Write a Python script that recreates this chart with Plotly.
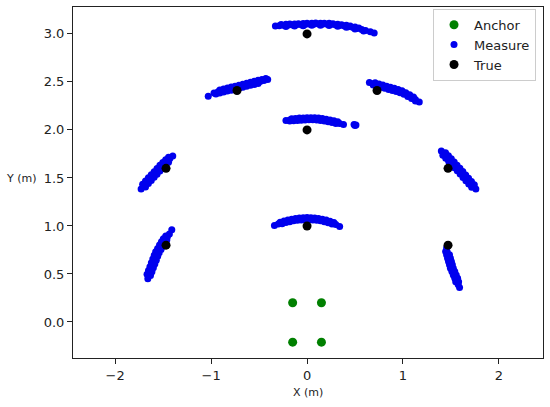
import plotly.graph_objects as go

# anchors and true tag positions (m)
anchor_x = [-0.15, 0.15, -0.15, 0.15]
anchor_y = [0.20, 0.20, -0.21, -0.21]

true_x = [0.0, -0.73, 0.73, 0.0, -1.47, 1.47, 0.0, -1.47, 1.47]
true_y = [3.0, 2.41, 2.41, 2.0, 1.60, 1.60, 1.0, 0.80, 0.80]

top_x = [-0.33, -0.29, -0.24, -0.20, -0.15, -0.11, -0.06, -0.02, 0.03, 0.07, 0.12, 0.16,
         0.21, 0.25, 0.30, 0.34, 0.39, 0.43, 0.48, 0.52, 0.57, 0.61, 0.66, 0.70,
         -0.27, -0.22, -0.18, -0.13, -0.09, -0.04, 0.00, 0.05, 0.09, 0.14, 0.18, 0.23,
         0.27, 0.32, 0.36, 0.41, 0.45, 0.50, 0.54,
         -0.22, -0.13, -0.04, 0.05, 0.14, 0.23, 0.32, 0.41, 0.50, 0.59]
top_y = [3.083, 3.085, 3.088, 3.090, 3.092, 3.094, 3.096, 3.098, 3.100, 3.101, 3.102, 3.101,
         3.100, 3.097, 3.093, 3.088, 3.082, 3.075, 3.066, 3.057, 3.046, 3.035, 3.022, 3.010,
         3.098, 3.100, 3.102, 3.104, 3.106, 3.108, 3.110, 3.111, 3.113, 3.112, 3.111, 3.110,
         3.106, 3.101, 3.096, 3.089, 3.082, 3.072, 3.062,
         3.078, 3.082, 3.086, 3.090, 3.091, 3.088, 3.079, 3.068, 3.051, 3.029]

upper_left_x = [-1.03, -0.97, -0.93, -0.89, -0.85, -0.81, -0.77, -0.73, -0.69, -0.65, -0.61,
                -0.57, -0.53, -0.49, -0.45, -0.41,
                -0.91, -0.87, -0.83, -0.79, -0.75, -0.71, -0.67, -0.63, -0.59, -0.55, -0.51,
                -0.47, -0.43,
                -0.95, -0.91, -0.87, -0.83, -0.79, -0.75, -0.71, -0.67, -0.63, -0.59, -0.55, -0.51]
upper_left_y = [2.350, 2.385, 2.395, 2.405, 2.415, 2.425, 2.435, 2.445, 2.455, 2.465, 2.475,
                2.485, 2.495, 2.505, 2.515, 2.525,
                2.416, 2.426, 2.436, 2.446, 2.456, 2.466, 2.476, 2.486, 2.496, 2.506, 2.516,
                2.526, 2.536,
                2.374, 2.384, 2.394, 2.404, 2.414, 2.424, 2.434, 2.444, 2.454, 2.464, 2.474, 2.484]

upper_right_x = [0.65, 0.69, 0.73, 0.77, 0.81, 0.85, 0.89, 0.93, 0.97, 1.01, 1.05, 1.09, 1.13, 1.17,
                 0.71, 0.75, 0.79, 0.83, 0.87, 0.91, 0.95, 0.99, 1.03, 1.07, 1.11,
                 0.69, 0.73, 0.77, 0.81, 0.85, 0.89, 0.93, 0.97, 1.01, 1.05, 1.09, 1.13]
upper_right_y = [2.495, 2.482, 2.470, 2.458, 2.447, 2.436, 2.425, 2.413, 2.400, 2.385, 2.362,
                 2.340, 2.316, 2.290,
                 2.490, 2.478, 2.467, 2.456, 2.445, 2.433, 2.421, 2.407, 2.388, 2.365, 2.342,
                 2.468, 2.456, 2.444, 2.433, 2.422, 2.411, 2.399, 2.386, 2.371, 2.348, 2.326, 2.302]

mid_x = [-0.22, -0.18, -0.14, -0.10, -0.06, -0.02, 0.02, 0.06, 0.10, 0.14, 0.18, 0.22, 0.26,
         0.30, 0.34, 0.38,
         -0.16, -0.12, -0.08, -0.04, 0.00, 0.04, 0.08, 0.12, 0.16, 0.20, 0.24, 0.28, 0.32,
         -0.18, -0.14, -0.10, -0.06, -0.02, 0.02, 0.06, 0.10, 0.14, 0.18, 0.22, 0.26, 0.30,
         0.49, 0.50, 0.51]
mid_y = [2.098, 2.103, 2.107, 2.110, 2.113, 2.115, 2.116, 2.116, 2.114, 2.110, 2.104, 2.097,
         2.089, 2.079, 2.068, 2.056,
         2.116, 2.120, 2.123, 2.125, 2.127, 2.127, 2.126, 2.123, 2.118, 2.112, 2.104, 2.095, 2.085,
         2.092, 2.096, 2.099, 2.102, 2.104, 2.105, 2.105, 2.103, 2.099, 2.093, 2.086, 2.078, 2.068,
         2.056, 2.046, 2.052]

mid_left_x = [-1.73, -1.70, -1.67, -1.64, -1.61, -1.58, -1.55, -1.52, -1.49, -1.46, -1.43, -1.40,
              -1.714, -1.684, -1.654, -1.624, -1.594, -1.564, -1.534, -1.504, -1.474, -1.444,
              -1.684, -1.654, -1.624, -1.594, -1.564, -1.534, -1.504, -1.474, -1.444]
mid_left_y = [1.385, 1.420, 1.455, 1.488, 1.520, 1.552, 1.585, 1.618, 1.648, 1.677, 1.703, 1.728,
              1.433, 1.468, 1.501, 1.533, 1.565, 1.598, 1.631, 1.661, 1.690, 1.716,
              1.406, 1.441, 1.474, 1.506, 1.538, 1.571, 1.604, 1.634, 1.663]

mid_right_x = [1.40, 1.43, 1.46, 1.49, 1.52, 1.55, 1.58, 1.61, 1.64, 1.67, 1.70, 1.73, 1.76,
               1.444, 1.474, 1.504, 1.534, 1.564, 1.594, 1.624, 1.654, 1.684, 1.714, 1.744,
               1.416, 1.446, 1.476, 1.506, 1.536, 1.566, 1.596, 1.626, 1.656, 1.686, 1.716]
mid_right_y = [1.780, 1.750, 1.718, 1.686, 1.654, 1.620, 1.587, 1.553, 1.518, 1.484, 1.450,
               1.416, 1.385,
               1.763, 1.731, 1.699, 1.667, 1.633, 1.600, 1.566, 1.531, 1.497, 1.463, 1.429,
               1.737, 1.705, 1.673, 1.641, 1.607, 1.574, 1.540, 1.505, 1.471, 1.437, 1.403]

low_x = [-0.34, -0.30, -0.26, -0.22, -0.18, -0.14, -0.10, -0.06, -0.02, 0.02, 0.06, 0.10, 0.14,
         0.18, 0.22, 0.26, 0.30, 0.34,
         -0.28, -0.24, -0.20, -0.16, -0.12, -0.08, -0.04, 0.00, 0.04, 0.08, 0.12, 0.16, 0.20,
         0.24, 0.28,
         -0.26, -0.22, -0.18, -0.14, -0.10, -0.06, -0.02, 0.02, 0.06, 0.10, 0.14, 0.18, 0.22, 0.26]
low_y = [1.005, 1.021, 1.035, 1.047, 1.056, 1.064, 1.070, 1.074, 1.076, 1.076, 1.074, 1.070,
         1.064, 1.056, 1.045, 1.032, 1.016, 0.995,
         1.039, 1.052, 1.063, 1.071, 1.078, 1.083, 1.086, 1.087, 1.086, 1.083, 1.078, 1.071,
         1.062, 1.050, 1.035,
         1.024, 1.036, 1.045, 1.053, 1.059, 1.063, 1.065, 1.065, 1.063, 1.059, 1.053, 1.045,
         1.034, 1.021]

low_left_x = [-1.66, -1.65, -1.635, -1.62, -1.605, -1.59, -1.575, -1.56, -1.54, -1.52, -1.50,
              -1.48, -1.455, -1.435, -1.41,
              -1.668, -1.653, -1.638, -1.623, -1.608, -1.593, -1.578, -1.558, -1.538, -1.518,
              -1.498, -1.473,
              -1.632, -1.617, -1.602, -1.587, -1.572, -1.557, -1.542, -1.522, -1.502, -1.482,
              -1.462]
low_left_y = [0.450, 0.490, 0.530, 0.570, 0.610, 0.650, 0.690, 0.725, 0.760, 0.795, 0.830,
              0.860, 0.890, 0.915, 0.960,
              0.496, 0.536, 0.576, 0.616, 0.656, 0.696, 0.731, 0.766, 0.801, 0.836, 0.866, 0.896,
              0.484, 0.524, 0.564, 0.604, 0.644, 0.684, 0.719, 0.754, 0.789, 0.824, 0.854]

low_right_x = [1.455, 1.46, 1.47, 1.48, 1.49, 1.50, 1.51, 1.525, 1.54, 1.555, 1.565, 1.575, 1.59,
               1.445, 1.455, 1.465, 1.475, 1.485, 1.495, 1.51, 1.525, 1.54, 1.55,
               1.485, 1.495, 1.505, 1.515, 1.525, 1.54, 1.555, 1.57, 1.58]
low_right_y = [0.770, 0.735, 0.700, 0.665, 0.630, 0.595, 0.560, 0.525, 0.490, 0.455, 0.420,
               0.390, 0.360,
               0.735, 0.700, 0.665, 0.630, 0.595, 0.560, 0.525, 0.490, 0.455, 0.420,
               0.700, 0.665, 0.630, 0.595, 0.560, 0.525, 0.490, 0.455, 0.420]

x_ticks = [-2, -1, 0, 1, 2]
y_ticks = [0.0, 0.5, 1.0, 1.5, 2.0, 2.5, 3.0]

measure_x = (top_x + upper_left_x + upper_right_x + mid_x + mid_left_x + mid_right_x
             + low_x + low_left_x + low_right_x)
measure_y = (top_y + upper_left_y + upper_right_y + mid_y + mid_left_y + mid_right_y
             + low_y + low_left_y + low_right_y)

FONT = "DejaVu Sans"
INK = "#222222"

fig = go.Figure()
fig.add_trace(go.Scatter(x=anchor_x, y=anchor_y, mode="markers", name="Anchor",
                         marker={"color": "#008000", "size": 9, "line": {"width": 0}}))
fig.add_trace(go.Scatter(x=measure_x, y=measure_y, mode="markers", name="Measure",
                         marker={"color": "#0000ee", "size": 7, "line": {"width": 0}}))
fig.add_trace(go.Scatter(x=true_x, y=true_y, mode="markers", name="True",
                         marker={"color": "black", "size": 9, "line": {"width": 0}}))

axis_common = {
    "showgrid": False,
    "zeroline": False,
    "showline": True,
    "linecolor": INK,
    "linewidth": 1,
    "mirror": True,
    "ticks": "outside",
    "ticklen": 5,
    "tickwidth": 1,
    "tickcolor": INK,
    "tickfont": {"family": FONT, "size": 13, "color": INK},
}

fig.update_layout(
    width=550,
    height=407,
    paper_bgcolor="white",
    plot_bgcolor="white",
    margin={"l": 73, "r": 7, "t": 7, "b": 49, "autoexpand": False},
    font={"family": FONT, "color": INK},
    xaxis={**axis_common, "range": [-2.44, 2.46], "tickvals": x_ticks},
    yaxis={**axis_common, "range": [-0.375, 3.28], "tickvals": y_ticks, "tickformat": ".1f"},
    legend={
        "x": 0.766, "y": 0.995, "xanchor": "left", "yanchor": "top",
        "bgcolor": "rgba(255,255,255,0.9)", "bordercolor": "#cccccc", "borderwidth": 1,
        "font": {"family": FONT, "size": 13, "color": INK},
    },
    annotations=[
        {"text": "X (m)", "xref": "paper", "yref": "paper", "x": 0.5, "y": -0.099,
         "xanchor": "center", "yanchor": "middle", "showarrow": False,
         "font": {"family": FONT, "size": 11, "color": INK}},
        {"text": "Y (m)", "xref": "paper", "yref": "paper", "x": -0.109, "y": 0.511,
         "xanchor": "center", "yanchor": "middle", "showarrow": False,
         "font": {"family": FONT, "size": 11, "color": INK}},
    ],
)

# the page body has a default 8px margin; drop it so the figure sits at the window corner
fig.write_html(
    "out.html",
    config={"displayModeBar": False},
    post_script="document.body.style.margin = '0';",
)
